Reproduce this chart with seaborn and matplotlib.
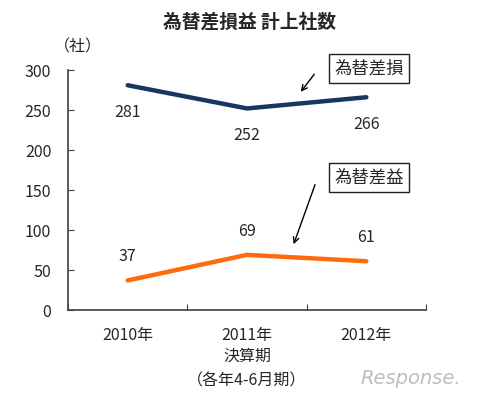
import numpy as np
import pandas as pd
import matplotlib
matplotlib.use("Agg")
import matplotlib.pyplot as plt
import seaborn as sns

# Data
years = ["2010年", "2011年", "2012年"]
loss_counts = [281, 252, 266]   # 為替差損
gain_counts = [37, 69, 61]      # 為替差益

sns.set_style("white")
plt.rcParams['font.family'] = ['Noto Sans CJK JP', 'DejaVu Sans']
plt.rcParams['xtick.bottom'] = True
plt.rcParams['ytick.left'] = True

df = pd.DataFrame({
    "pos": list(range(len(years))) * 2,
    "count": loss_counts + gain_counts,
    "kind": ["為替差損"] * len(years) + ["為替差益"] * len(years),
})

fig = plt.figure(figsize=(4.8, 3.98), dpi=100)
ax = fig.add_axes([0.1417, 0.221, 0.7458, 0.603])

sns.lineplot(data=df, x="pos", y="count", hue="kind",
             palette={"為替差損": "#17375E", "為替差益": "#FF6A0D"},
             linewidth=3.2, legend=False, ax=ax)

fs = 11.5
ax.set_xlim(-0.5, len(years) - 0.5)
ax.set_ylim(0, 300)
ax.set_yticks(np.arange(0, 301, 50))
ax.set_xticks(np.arange(-0.5, len(years), 1.0))
ax.set_xticklabels([])
ax.set_xticks(range(len(years)), minor=True)
ax.set_xticklabels(years, minor=True, fontsize=fs)
ax.tick_params(axis="x", which="minor", length=0, pad=12)
ax.tick_params(axis="x", which="major", direction="in", length=4, color="#404040")
ax.tick_params(axis="y", direction="in", length=4, color="#404040", labelsize=fs, pad=12)
ax.set_xlabel("決算期\n（各年4-6月期）", fontsize=fs, labelpad=3, linespacing=1.55)
ax.set_ylabel("")
sns.despine(ax=ax)
for s in ["left", "bottom"]:
    ax.spines[s].set_color("#404040")
    ax.spines[s].set_linewidth(1.2)

# value labels
for i, v in enumerate(loss_counts):
    ax.annotate(str(v), (i, v), xytext=(0, -19.5), textcoords="offset points",
                ha="center", va="center", fontsize=fs)
for i, v in enumerate(gain_counts):
    ax.annotate(str(v), (i, v), xytext=(0, 17), textcoords="offset points",
                ha="center", va="center", fontsize=fs)

# callout boxes
box = dict(boxstyle="square,pad=0.3", fc="white", ec="#202020", lw=1.0)
ax.text(1.73, 302, "為替差損", ha="left", va="center", fontsize=12.5,
        bbox=box, clip_on=False)
ax.annotate("", xy=(1.436, 270), xytext=(1.578, 297.5),
            arrowprops=dict(arrowstyle="->", color="black", lw=1.0), annotation_clip=False)
ax.text(1.73, 165.5, "為替差益", ha="left", va="center", fontsize=12.5,
        bbox=box, clip_on=False)
ax.annotate("", xy=(1.383, 79), xytext=(1.578, 160),
            arrowprops=dict(arrowstyle="->", color="black", lw=1.0), annotation_clip=False)

fig.text(0.52, 0.945, "為替差損益 計上社数", ha="center", va="center",
         fontsize=13.5, fontweight="bold")
fig.text(0.162, 0.882, "（社）", ha="center", va="center", fontsize=fs)
fig.text(0.855, 0.05, "Response.", ha="center", va="center", fontsize=14,
         color="#bdbdbd", style="italic", family="DejaVu Sans")

fig.savefig("out.png", dpi=100)
